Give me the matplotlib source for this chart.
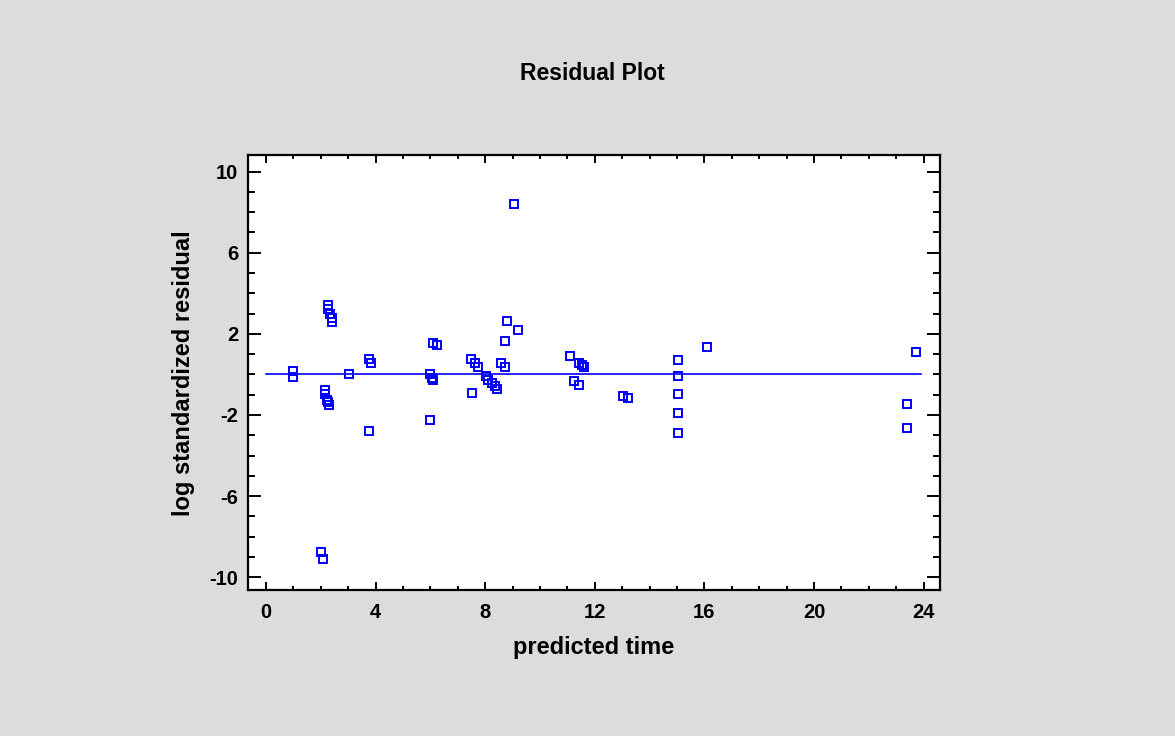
import numpy as np
import matplotlib
matplotlib.use("Agg")
import matplotlib.pyplot as plt
from matplotlib.ticker import MultipleLocator

# Residual data
predicted_time = [
    1.0, 1.0,
    2.28, 2.28, 2.34, 2.42, 2.42,
    2.16, 2.16, 2.22, 2.25, 2.29,
    2.01, 2.09,
    3.02,
    3.76, 3.84, 3.76,
    6.08, 6.24, 5.98, 6.05, 6.11, 5.98,
    7.49, 7.63, 7.72, 7.51,
    8.04, 8.12, 8.24, 8.36, 8.44,
    9.06, 8.79, 9.18, 8.72, 8.57, 8.73,
    11.08, 11.41, 11.53, 11.62, 11.25, 11.41,
    13.02, 13.21,
    15.03, 15.03, 15.03, 15.03, 15.03,
    16.1,
    23.74, 23.4, 23.4,
]
log_std_residual = [
    0.15, -0.13,
    3.42, 3.22, 3.0, 2.8, 2.57,
    -0.79, -0.95, -1.28, -1.38, -1.49,
    -8.75, -9.11,
    0.0,
    0.74, 0.56, -2.81,
    1.54, 1.46, 0.03, -0.18, -0.3, -2.27,
    0.74, 0.56, 0.36, -0.9,
    -0.08, -0.26, -0.43, -0.59, -0.7,
    8.41, 2.63, 2.17, 1.64, 0.56, 0.36,
    0.9, 0.56, 0.44, 0.36, -0.33, -0.51,
    -1.08, -1.17,
    0.72, -0.08, -0.99, -1.89, -2.89,
    1.35,
    1.1, -1.45, -2.63,
]
zero_line_x = [0.0, 23.9]
zero_line_y = [0.0, 0.0]

BG = "#dcdcdc"
BLUE = "#0000ff"

plt.rcParams["font.family"] = ["Liberation Sans", "DejaVu Sans"]
plt.rcParams["axes.unicode_minus"] = False

fig = plt.figure(figsize=(11.75, 7.36), dpi=100, facecolor=BG)
ax = fig.add_axes([0.211, 0.198, 0.589, 0.591])
ax.set_facecolor("white")

ax.plot(zero_line_x, zero_line_y, color=BLUE, lw=1.2)
ax.plot(predicted_time, log_std_residual, ls="none", marker="s", ms=6.4,
        mfc="none", mec=BLUE, mew=1.4)

ax.set_xlim(-0.66, 24.6)
ax.set_ylim(-10.64, 10.8)
ax.xaxis.set_major_locator(MultipleLocator(4))
ax.xaxis.set_minor_locator(MultipleLocator(1))
ax.yaxis.set_major_locator(MultipleLocator(4))
ax.yaxis.set_minor_locator(MultipleLocator(1))
ax.set_yticks([-10, -6, -2, 2, 6, 10])

for s in ax.spines.values():
    s.set_linewidth(1.6)

ax.tick_params(axis="both", which="both", direction="in", top=True, right=True,
               width=1.4, labelsize=14.5)
ax.tick_params(axis="x", which="major", length=6, pad=9)
ax.tick_params(axis="x", which="minor", length=3)
ax.tick_params(axis="y", which="major", length=9.5, pad=7)
ax.tick_params(axis="y", which="minor", length=5)
for lbl in ax.get_xticklabels() + ax.get_yticklabels():
    lbl.set_fontweight("bold")

ax.set_xlabel("predicted time", fontsize=17, fontweight="bold", labelpad=10)
ax.set_ylabel("log standardized residual", fontsize=17, fontweight="bold", labelpad=10)
fig.text(0.504, 0.90, "Residual Plot", ha="center", va="center",
         fontsize=16.5, fontweight="bold")

fig.savefig("out.png", dpi=100, facecolor=BG)
